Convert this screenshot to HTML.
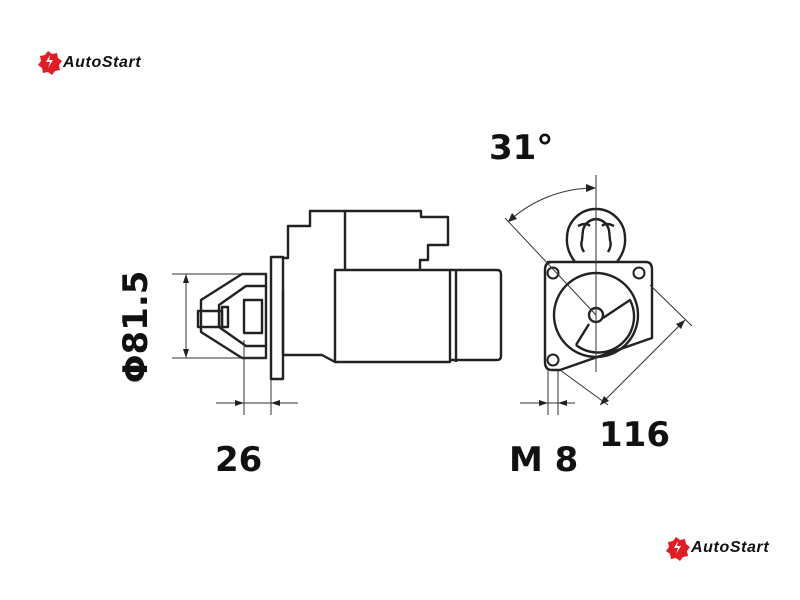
<!DOCTYPE html>
<html><head><meta charset="utf-8"><style>
html,body{margin:0;padding:0;background:#fff;width:800px;height:600px;overflow:hidden}
svg{display:block}
</style></head><body>
<svg width="800" height="600" viewBox="0 0 800 600" xmlns="http://www.w3.org/2000/svg">
<g fill="none" stroke="#222" stroke-width="2.4" stroke-linejoin="round">
<rect x="271" y="257" width="12" height="122"/>
<path d="M266 274H242L201 300V332L242 358H266Z"/>
<path d="M266 286H246L219 305V327L246 346H266"/>
<rect x="244" y="300" width="18" height="33"/>
<rect x="198" y="311" width="24" height="16"/>
<rect x="222" y="307" width="6" height="20"/>
<path d="M283 258H288V226H310V211H345"/>
<path d="M345 211H421V217H448V245H428V260H420V270"/>
<path d="M345 211V270"/>
<path d="M335 270H450V362H335Z"/>
<path d="M450 270H497Q501 270 501 274V356Q501 360 497 360H450"/>
<path d="M456 270V362"/>
<path d="M283 355H322L335 362"/>
<path d="M283 290V355"/>
<path d="M548 262H646Q652 262 652 270V338L560 370H552Q545 370 545 362V270Q545 262 552 262Z"/>
<path d="M575 262Q566 250 567 238A29 29 0 0 1 625 238Q626 250 617 262"/>
<path d="M584 252Q580 246 582 240L583 230Q586 220 596 219Q606 220 609 230L610 240Q612 246 608 252"/>
<path d="M578 226Q586 222 590 226M614 226Q606 222 602 226"/>
<circle cx="553" cy="273" r="5.5" stroke-width="2"/>
<circle cx="639" cy="273" r="5.5" stroke-width="2"/>
<circle cx="553" cy="360" r="5.5" stroke-width="2"/>
<circle cx="596" cy="315" r="42"/>
<circle cx="596" cy="315" r="7"/>
<path d="M576 345A36 36 0 0 0 630 300L603 318"/>
<path d="M589 324L576 345"/>
</g>
<g fill="none" stroke="#333" stroke-width="1">
<line x1="172" y1="274" x2="266" y2="274"/>
<line x1="172" y1="358" x2="266" y2="358"/>
<line x1="186" y1="276" x2="186" y2="356"/>
<line x1="244" y1="340" x2="244" y2="415"/>
<line x1="271" y1="380" x2="271" y2="415"/>
<line x1="216" y1="403" x2="298" y2="403"/>
<line x1="596" y1="175" x2="596" y2="372"/>
<line x1="505" y1="218" x2="596" y2="315"/>
<path d="M508 222A127 127 0 0 1 594 188"/>
<line x1="650" y1="285" x2="692" y2="326"/>
<line x1="560" y1="370" x2="608" y2="405"/>
<line x1="685" y1="320" x2="600" y2="405"/>
<line x1="548" y1="370" x2="548" y2="415"/>
<line x1="558" y1="370" x2="558" y2="415"/>
<line x1="520" y1="403" x2="575" y2="403"/>
</g>
<g fill="#222">
<path d="M186 274l-3 9h6z"/><path d="M186 358l-3 -9h6z"/>
<path d="M244 403l-9 -3v6z"/><path d="M271 403l9 -3v6z"/>
<path d="M596 188l-10 -4v8z"/><path d="M508 222l4 -9l5 6z"/>
<path d="M685 320l-4 9l-5 -5z"/><path d="M600 405l4 -9l5 5z"/>
<path d="M548 403l-9 -3v6z"/><path d="M558 403l9 -3v6z"/>
</g>
<g font-family="'DejaVu Sans','Liberation Sans',sans-serif" font-weight="bold" font-size="34" fill="#111">
<text x="489" y="159">31°</text>
<text x="215" y="471">26</text>
<text x="509" y="471">M 8</text>
<text x="599" y="446">116</text>
<text transform="translate(147,327) rotate(-90)" text-anchor="middle">Φ81.5</text>
</g>
<g font-family="'Liberation Sans',sans-serif" font-weight="bold" font-style="italic" font-size="16" letter-spacing="0.6" fill="#111">
<path d="M48 51l4 3 5-1 1 5 4 3-3 4 1 5-5 1-3 4-4-3-5 1-1-5-4-3 3-4-1-5 5-1z" fill="#e01c24"/>
<path d="M50 55l-4 7h4l-2 6 5-8h-4z" fill="#fff"/>
<text x="63" y="67">AutoStart</text>
<path d="M676 537l4 3 5-1 1 5 4 3-3 4 1 5-5 1-3 4-4-3-5 1-1-5-4-3 3-4-1-5 5-1z" fill="#e01c24"/>
<path d="M678 541l-4 7h4l-2 6 5-8h-4z" fill="#fff"/>
<text x="691" y="552">AutoStart</text>
</g>
</svg>
</body></html>
